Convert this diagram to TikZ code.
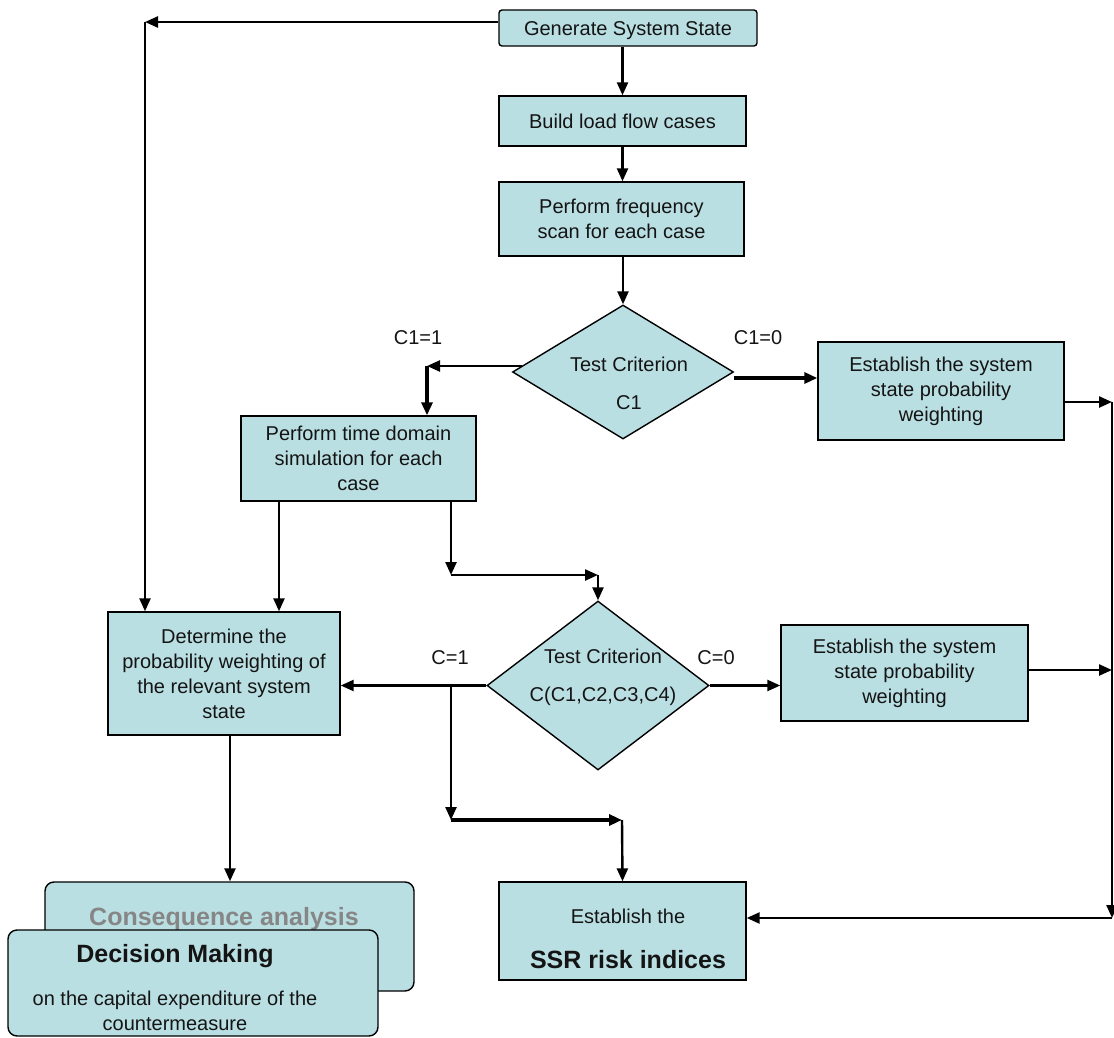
\documentclass[tikz,border=0pt]{standalone}
\usepackage{fontspec}
\setmainfont{Liberation Sans}
\usetikzlibrary{arrows.meta,shapes.geometric,calc}
\definecolor{boxfill}{RGB}{186,223,227}
\definecolor{txt}{RGB}{20,20,20}
\tikzset{
  every node/.style={font=\fontsize{20}{25}\selectfont, text=txt},
  stepbox/.style={draw=black, line width=1.4pt, fill=boxfill, inner sep=0pt, align=center},
  roundbox/.style={stepbox, rounded corners=9pt},
  decision/.style={draw=black, line width=1.4pt, fill=boxfill, diamond, inner sep=0pt},
  arr/.style={line width=2.4pt, -{Triangle[length=13pt,width=11pt]}},
  thickarr/.style={line width=4pt, -{Triangle[length=13pt,width=11pt]}},
  plain/.style={align=center, inner sep=0pt},
  lbl/.style={inner sep=0pt}
}
\begin{document}
\begin{tikzpicture}[x=1pt,y=-1pt]
\useasboundingbox (0,0) rectangle (1114,1038);

% process boxes
\node[stepbox, rounded corners=3pt, minimum width=258pt, minimum height=36pt] (gen) at (628,28) {};
\node[plain] at (628,31) {Generate System State};
\node[stepbox, minimum width=247pt, minimum height=50pt] (build) at (622.5,121) {Build load flow cases};
\node[stepbox, minimum width=245pt, minimum height=74pt] (freq) at (621.5,219) {Perform frequency\\scan for each case};
\node[decision, minimum width=221pt, minimum height=134pt] (d1) at (623,372) {};
\node[plain] at (629,383) {Test Criterion\\[13pt]C1};
\node[stepbox, minimum width=246pt, minimum height=98pt] (est1) at (941,391) {Establish the system\\state probability\\weighting};
\node[stepbox, minimum width=235pt, minimum height=85pt] (td) at (358.5,458.5) {Perform time domain\\simulation  for each\\case};
\node[decision, minimum width=222pt, minimum height=169pt] (d2) at (598,685.5) {};
\node[plain] at (603,677) {Test Criterion\\[13pt]C(C1,C2,C3,C4)};
\node[stepbox, minimum width=247pt, minimum height=96pt] (est2) at (904.5,673) {Establish the system\\state probability\\weighting};
\node[stepbox, minimum width=232pt, minimum height=123pt] (det) at (224,673.5) {Determine the\\probability weighting of\\the relevant system\\state};
\node[stepbox, minimum width=247pt, minimum height=98pt] (ssr) at (622.5,931) {};
\node[plain] at (628,916) {Establish the};
\node[plain, font=\fontsize{25}{30}\selectfont\bfseries] at (628,960) {SSR risk indices};
\node[roundbox, minimum width=369pt, minimum height=109pt] (cons) at (229.5,936.5) {};
\node[plain, font=\fontsize{25}{30}\selectfont\bfseries, text=gray!95] at (224,919) {Consequence analysis};
\node[roundbox, minimum width=370pt, minimum height=106pt] (dec) at (193,983) {};
\node[plain, font=\fontsize{25}{30}\selectfont\bfseries] at (175,956) {Decision Making};
\node[plain] at (175,1011) {on the capital expenditure of the\\countermeasure};

% branch labels
\node[lbl] (l1) at (418,338) {C1=1};
\node[lbl] (l2) at (758,338) {C1=0};
\node[lbl] (l3) at (450,658) {C=1};
\node[lbl] (l4) at (716,658) {C=0};

% routing points
\coordinate (tl) at (145,22);
\coordinate (k0) at ($(d1.west)+(10,-6)$);
\coordinate (k1) at (427,366);
\coordinate (rt1) at (1112,402);
\coordinate (rt2) at (1112,670);
\coordinate (rb) at (1112,918);
\coordinate (ta) at (279,501);
\coordinate (tb) at (451,501);
\coordinate (tc) at (451,575);
\coordinate (td2) at (598,575);
\coordinate (ca) at (451,685);
\coordinate (cb) at (451,820);
\coordinate (cc) at (622,820);
\coordinate (da) at (230,735);

% connectors
\draw[arr] (tl -| gen.west) -- (tl);
\draw[arr] (tl) -- (tl |- det.north);
\draw[arr] (build.north |- gen.south) -- (build.north);
\draw[arr] (build.south) -- (build.south |- freq.north);
\draw[arr] (d1.north |- freq.south) -- (d1.north);
\draw[arr] (k0) -- (k1);
\draw[thickarr] (k1) -- (k1 |- td.north);
\draw[thickarr] ($(d1.east)+(0,6)$) -- ($(d1.east -| est1.west)+(0,6)$);
\draw[arr] (rt1 -| est1.east) -- (rt1);
\draw[arr] (rt2 -| est2.east) -- (rt2);
\draw[arr] (rt1) -- (rb);
\draw[arr] (rb) -- (rb -| ssr.east);
\draw[arr] (ta) -- (ta |- det.north);
\draw[arr] (tb) -- (tc);
\draw[arr] (tc) -- (td2);
\draw[arr] (td2) -- (d2.north);
\draw[arr] (d2.west) -- (det.east |- d2.west);
\draw[arr] (d2.east) -- (est2.west |- d2.east);
\draw[arr] (ca) -- (cb);
\draw[thickarr] (cb) -- (cc);
\draw[arr] (cc) -- (ssr.north);
\draw[arr] (da) -- (da |- cons.north);
\end{tikzpicture}
\end{document}
